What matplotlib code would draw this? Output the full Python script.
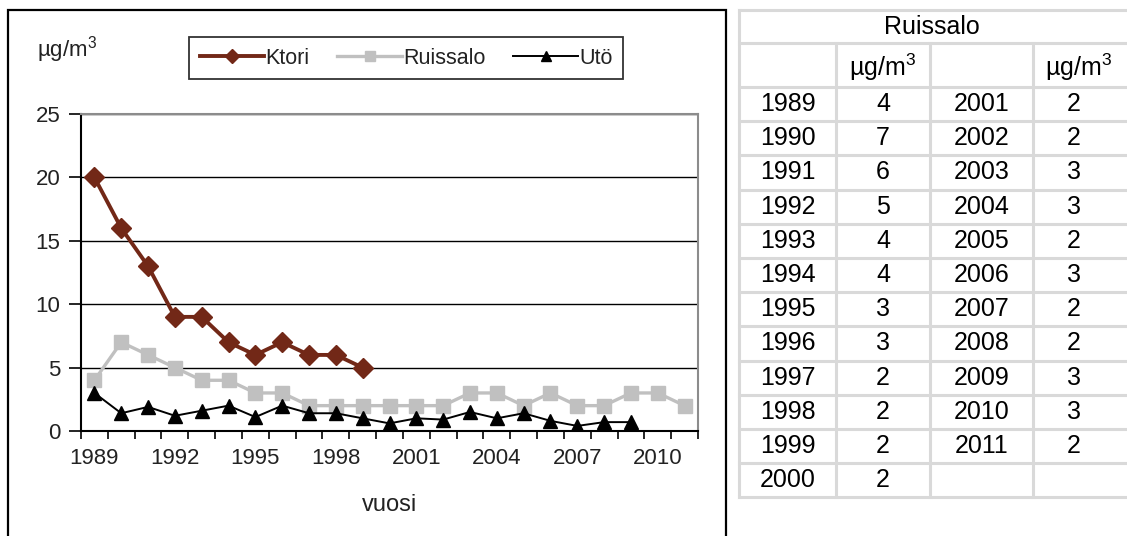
# Ktori, Ruissalo and Utö annual mean concentrations with Ruissalo data table.
import matplotlib
matplotlib.use('Agg')
from matplotlib import pyplot as plt
from matplotlib.patches import Rectangle
from matplotlib.lines import Line2D

W, H = 1127, 536

years = list(range(1989, 2012))
ktori = [20, 16, 13, 9, 9, 7, 6, 7, 6, 6, 5]
ruissalo = [4, 7, 6, 5, 4, 4, 3, 3, 2, 2, 2, 2, 2, 2, 3, 3, 2, 3, 2, 2, 3, 3, 2]
uto = [3.0, 1.4, 1.9, 1.2, 1.6, 2.0, 1.1, 2.0, 1.4, 1.4, 1.0, 0.6,
       1.0, 0.9, 1.5, 1.0, 1.4, 0.8, 0.4, 0.7, 0.7]
year_labels = [str(y) for y in years[::3]]
unit = 'µg/m$^3$'

plt.rcParams['font.family'] = ['Liberation Sans', 'DejaVu Sans']
plt.rcParams['mathtext.fontset'] = 'custom'
plt.rcParams['mathtext.rm'] = 'Liberation Sans'
plt.rcParams['mathtext.default'] = 'regular'

fig = plt.figure(figsize=(W / 100, H / 100), dpi=100)


def fx(px):
    return px / W


def fy(py):
    return 1 - py / H


# Chart panel border
fig.add_artist(Rectangle((fx(8), fy(545)), fx(726) - fx(8), fy(10) - fy(545),
                         transform=fig.transFigure, fill=False,
                         edgecolor='black', linewidth=1.6))

ax = fig.add_axes([fx(81), fy(431), fx(698) - fx(81), fy(114) - fy(431)])
x = list(range(len(years)))

ax.plot(x[:len(ktori)], ktori, color='#722817', lw=2.8, marker='D',
        markersize=10, label='Ktori', zorder=4)
ax.plot(x, ruissalo, color='#c0c0c0', lw=2.4, marker='s',
        markersize=10, label='Ruissalo', zorder=3)
ax.plot(x[:len(uto)], uto, color='black', lw=1.4, marker='^',
        markersize=10, label='Utö', zorder=5)

ax.set_xlim(-0.5, len(years) - 0.5)
ax.set_ylim(0, 25)
ax.set_yticks([0, 5, 10, 15, 20, 25])
ax.yaxis.grid(True, color='black', lw=1.0)
ax.set_axisbelow(True)

# Category boundaries as tick marks, labels every third year
ax.set_xticks([i - 0.5 for i in range(len(years) + 1)])
ax.set_xticklabels([])
ax.set_xticks(x[::3], minor=True)
ax.set_xticklabels(year_labels, minor=True)
ax.tick_params(axis='x', which='major', direction='out', length=6,
               width=1.2, color='black')
ax.tick_params(axis='x', which='minor', length=0, pad=12,
               labelsize=16, labelcolor='#222222')
ax.tick_params(axis='y', direction='out', length=9, width=1.2,
               labelsize=16, labelcolor='#222222', pad=6)

for side in ['top', 'right']:
    ax.spines[side].set_color('#8c8c8c')
    ax.spines[side].set_linewidth(1.5)
for side in ['left', 'bottom']:
    ax.spines[side].set_color('black')
    ax.spines[side].set_linewidth(1.5)

fig.text(fx(390), fy(505), 'vuosi', ha='center', va='center',
         fontsize=17, color='#222222')
fig.text(fx(37), fy(50), unit, ha='left', va='center',
         fontsize=16, color='#222222')

leg = fig.legend(loc='center', ncol=3,
                 bbox_to_anchor=(fx(406), fy(58)), fontsize=15.5,
                 frameon=True, fancybox=False, handlelength=3.0,
                 handletextpad=0.05, columnspacing=1.3, borderpad=0.5,
                 markerscale=0.7)
leg.get_frame().set_edgecolor('black')
leg.get_frame().set_linewidth(1.3)
for t in leg.get_texts():
    t.set_color('#222222')

# Ruissalo table
col_x = [739, 836, 930, 1033, 1135]
row_y = [10, 43, 87] + [87 + 34.2 * k for k in range(1, 13)]
grid_c = '#d9d9d9'
for cx in col_x:
    top = row_y[0] if cx in (col_x[0], col_x[-1]) else row_y[1]
    fig.add_artist(Line2D([fx(cx), fx(cx)], [fy(top), fy(row_y[-1])],
                          transform=fig.transFigure, color=grid_c, lw=2.2))
for ry in row_y:
    fig.add_artist(Line2D([fx(col_x[0]), fx(col_x[-1])], [fy(ry), fy(ry)],
                          transform=fig.transFigure, color=grid_c, lw=2.2))

tsize = 18
fig.text(fx(932), fy((row_y[0] + row_y[1]) / 2),
         'Ruissalo', ha='center', va='center', fontsize=tsize)
for c in (1, 3):
    fig.text(fx((col_x[c] + col_x[c + 1]) / 2 - (0 if c == 1 else 5)),
             fy((row_y[1] + row_y[2]) / 2 + 2),
             unit, ha='center', va='center', fontsize=tsize)

half = 12
for i, (yr, val) in enumerate(zip(years, ruissalo)):
    block = 0 if i < half else 2
    r = i if i < half else i - half
    cy = fy((row_y[2 + r] + row_y[3 + r]) / 2)
    fig.text(fx((col_x[block] + col_x[block + 1]) / 2), cy, str(yr),
             ha='center', va='center', fontsize=tsize)
    val_x = (col_x[block + 1] + col_x[block + 2]) / 2 - (0 if block == 0 else 10)
    fig.text(fx(val_x), cy, str(val), ha='center', va='center', fontsize=tsize)

fig.savefig('out.png', dpi=100)
